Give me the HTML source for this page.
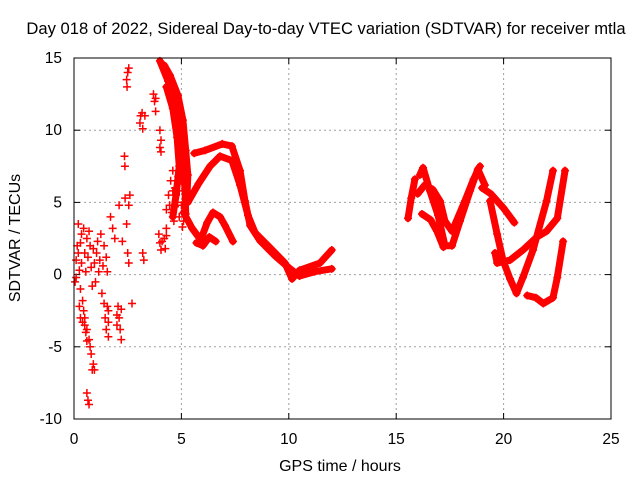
<!DOCTYPE html>
<html><head><meta charset="utf-8"><style>
body{margin:0;background:#fff}
svg{display:block;font-family:"Liberation Sans",sans-serif}
</style></head><body>
<svg id="chart" width="640" height="480" viewBox="0 0 640 480">
<rect width="640" height="480" fill="#fff"/>
<text x="326" y="34" font-size="16.6" text-anchor="middle">Day 018 of 2022, Sidereal Day-to-day VTEC variation (SDTVAR) for receiver mtla</text>
<g id="grid"></g>
<g id="ticks"></g>
<g id="marks"></g>
<rect x="74" y="58" width="537" height="361" fill="none" stroke="#000" stroke-width="1"/>
<text x="340" y="471" font-size="16" text-anchor="middle">GPS time / hours</text>
<text x="20" y="238" font-size="16" text-anchor="middle" transform="rotate(-90 20 238)">SDTVAR / TECUs</text>
</svg>
<script>
const xTicks=[0,5,10,15,20,25];
const yTicks=[-10,-5,0,5,10,15];
// continuous satellite arcs: [hour, TECU]
const arcA=[[5.6,8.4],[6.1,8.6],[6.9,9.05],[7.35,8.9],[7.73,7.2],[7.96,5.1],[8.2,3.4],[8.66,2.35],[9.36,1.3],[10.06,0.4],[10.5,-0.1],[11.2,0.2],[12,0.4]];
const arcB=[[5.3,5.0],[5.8,6.3],[6.33,7.5],[6.8,8.2],[7.35,7.9],[7.73,6.2],[8.1,4.1],[8.43,2.9],[9.1,1.9],[9.82,0.8],[10.15,-0.3],[10.5,0.3],[11.45,0.8],[12,1.7]];
const arcC=[[5.1,4.3],[5.5,3.2],[5.9,2.4],[6.2,3.6],[6.47,4.3],[6.8,4.0],[7.03,3.4],[7.4,2.3]];
const arcC2=[[5.7,2.2],[6.0,2.0],[6.3,2.6],[6.6,2.3]];
const arcD=[[4.0,14.8],[4.38,13.4],[4.7,12],[4.93,10],[5.07,7.9],[5.17,5.8],[5.2,4.2]];
const arcE=[[4.2,14.5],[4.47,13.8],[4.84,12.4],[5.07,10.7],[5.2,8.6],[5.3,6.9],[5.25,5.0]];
const arcF=[[4.3,13.0],[4.6,11.5],[4.8,9.5],[4.9,7.5],[4.75,5.5],[4.6,4.0]];
const arcG=[[15.55,3.9],[15.7,5.3],[15.87,6.6]];
const arcH=[[16.1,6.9],[16.25,7.4],[16.57,5.8],[16.95,4.1],[17.27,2.0],[17.6,2.0],[17.97,3.7],[18.44,5.8],[18.8,7.3],[19.13,6.2]];
const arcI=[[16.0,5.6],[16.33,6.2],[16.7,5.9],[17.04,5.1],[17.27,3.7],[17.6,3.0],[18.2,5.1],[18.6,6.6],[18.9,7.5]];
const arcJ=[[16.2,4.2],[16.6,3.8],[16.9,3.0],[17.2,1.9]];
const arcK=[[19.0,6.0],[19.4,5.6],[20.0,4.6],[20.5,3.6]];
const arcL=[[19.37,5.1],[19.7,2.8],[19.97,1.0],[20.3,-0.3],[20.6,-1.3],[20.9,-0.2],[21.37,1.7],[22.0,5.1],[22.3,7.2]];
const arcM=[[19.6,1.5],[19.7,0.8],[20.3,1.0],[20.9,1.7],[21.55,2.6],[22.0,3.0],[22.5,3.9],[22.86,7.2]];
const arcN=[[21.1,-1.45],[21.5,-1.6],[21.85,-2.0],[22.3,-1.6],[22.5,-0.2],[22.77,2.3]];
const arcs=[arcA,arcB,arcC,arcC2,arcD,arcE,arcF,arcG,arcH,arcI,arcJ,arcK,arcL,arcM,arcN];
// isolated scatter points: [hour, TECU]
const scatter=[[0.05,-0.5],[0.1,1.0],[0.15,2.0],[0.2,3.5],[0.25,0.3],[0.3,-1.0],[0.35,2.8],[0.4,-1.8],[0.45,-2.5],[0.5,-3.5],[0.55,-4.0],[0.6,-3.8],[0.7,-4.5],[0.8,-5.5],[0.9,-6.2],[0.95,-6.6],[0.6,-8.2],[0.65,-8.7],[0.7,-9.0],[0.5,1.5],[0.6,2.5],[0.7,3.0],[0.8,0.5],[0.9,1.8],[1.0,-0.5],[1.1,2.3],[1.2,1.0],[1.3,-1.3],[1.4,2.0],[1.5,1.2],[1.55,0.2],[1.4,-2.0],[1.45,-3.0],[1.5,-3.8],[1.6,-4.3],[1.6,-2.5],[1.7,4.0],[1.8,3.2],[1.9,2.5],[2.05,-2.2],[2.1,-3.0],[2.15,-3.8],[2.2,-4.5],[2.0,-2.8],[2.1,4.8],[2.25,2.3],[2.35,8.2],[2.37,7.5],[2.38,5.3],[2.45,3.5],[2.55,4.8],[2.6,5.5],[2.5,1.5],[2.55,0.8],[2.7,-2.0],[2.45,13.5],[2.5,14.0],[2.55,14.3],[2.47,13.0],[3.07,10.5],[3.1,11.0],[3.17,11.2],[3.2,10.1],[3.2,1.5],[3.25,1.0],[3.7,12.5],[3.75,12.0],[3.8,11.3],[4.0,10.0],[4.05,9.3],[4.0,8.8],[3.95,2.8],[4.0,2.2],[4.05,1.7],[4.2,2.5],[4.3,4.5],[4.4,5.5],[4.5,6.5],[4.6,7.2],[4.7,6.0],[4.8,5.0],[4.9,4.0],[5.0,6.5],[5.1,3.7],[4.3,3.2],[4.45,4.8],
[0.1,-0.2],[0.2,1.5],[0.3,2.2],[0.35,0.8],[0.45,3.2],[0.55,0.2],[0.65,1.2],[0.75,2.0],[0.85,-0.8],[0.95,0.8],[1.05,1.5],[1.15,0.2],[1.25,2.8],[1.35,0.6],[0.25,-2.2],[0.3,-3.0],[0.4,-3.3],[0.5,-3.0],[0.6,-4.6],[0.75,-5.0],[0.85,-6.6],[1.6,-3.3],[1.55,-2.2],[2.0,-3.5],[2.2,-2.4],[4.6,5.8],[4.7,4.7],[4.9,5.8],[5.0,4.8],[4.85,6.8],[4.55,4.3],[4.65,3.7],[5.05,3.3],[4.95,7.2],[4.3,2.7],[4.25,1.8],[4.1,2.3],[3.3,11.0],[3.8,12.2],[4.05,8.5]];
const SVGNS="http://www.w3.org/2000/svg";
const X0=74,X1=611,Y0=419,Y1=58,XMIN=0,XMAX=25,YMIN=-10,YMAX=15;
function xs(v){return X0+(v-XMIN)/(XMAX-XMIN)*(X1-X0);}
function ys(v){return Y0-(v-YMIN)/(YMAX-YMIN)*(Y0-Y1);}
function mk(tag,attrs,parent){const e=document.createElementNS(SVGNS,tag);for(const k in attrs)e.setAttribute(k,attrs[k]);parent.appendChild(e);return e;}
const grid=document.getElementById('grid'),ticks=document.getElementById('ticks'),marks=document.getElementById('marks');
xTicks.forEach(t=>{const x=xs(t);
 if(t>XMIN&&t<XMAX){const g=mk('line',{x1:x,x2:x,y1:Y1,y2:Y0,stroke:'#a0a0a0','stroke-dasharray':'2,3'},grid);
 
 }
 const l=mk('text',{x:x,y:444,'font-size':15.5,'text-anchor':'middle'},ticks);l.textContent=t;
 
 
 mk('line',{x1:x,x2:x,y1:Y0,y2:Y0-6,stroke:'#000'},ticks);mk('line',{x1:x,x2:x,y1:Y1,y2:Y1+6,stroke:'#000'},ticks);});
yTicks.forEach(t=>{const y=ys(t);
 if(t>YMIN&&t<YMAX){const g=mk('line',{x1:X0,x2:X1,y1:y,y2:y,stroke:'#a0a0a0','stroke-dasharray':'2,3'},grid);
 
 }
 const l=mk('text',{x:62,y:y+5,'font-size':15.5,'text-anchor':'end'},ticks);l.textContent=t;
 
 
 mk('line',{x1:X0,x2:X0+6,y1:y,y2:y,stroke:'#000'},ticks);mk('line',{x1:X1,x2:X1-6,y1:y,y2:y,stroke:'#000'},ticks);});
function plus(t,v){const x=xs(t),y=ys(v);
 const p=mk('path',{d:`M${x-4} ${y}H${x+4}M${x} ${y-4}V${y+4}`,stroke:'#f00','stroke-width':1.5,fill:'none'},marks);
 
 }
arcs.forEach(a=>{
 const pl=mk('polyline',{points:a.map(p=>xs(p[0])+','+ys(p[1])).join(' '),fill:'none',stroke:'#f00','stroke-width':7,'stroke-linejoin':'round','stroke-linecap':'round'},marks);
 
 
 a.forEach(p=>plus(p[0],p[1]));});
scatter.forEach(p=>plus(p[0],p[1]));
</script>
</body></html>
